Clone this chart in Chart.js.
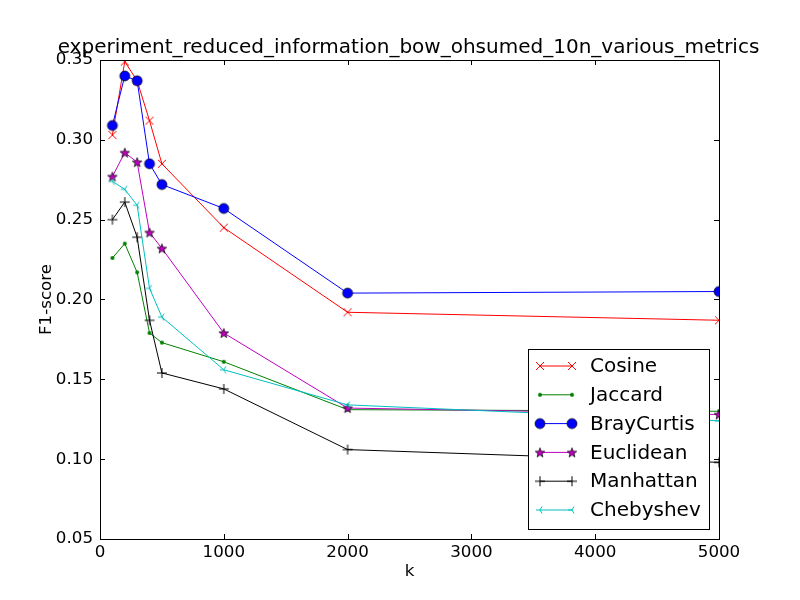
<!DOCTYPE html>
<html>
<head>
<meta charset="utf-8">
<script src="https://cdn.jsdelivr.net/npm/chart.js@4.4.0/dist/chart.umd.min.js"></script>
<style>
  html, body { margin: 0; padding: 0; background: #fff; }
  canvas { display: block; }
</style>
</head>
<body>
<canvas id="chart" width="800" height="600"></canvas>
<script>
const kValues = [100, 200, 300, 400, 500, 1000, 2000, 5000];
const cosine = [0.303, 0.349, 0.337, 0.312, 0.285, 0.245, 0.192, 0.187];
const jaccard = [0.226, 0.235, 0.217, 0.179, 0.173, 0.161, 0.131, 0.130];
const brayCurtis = [0.309, 0.340, 0.337, 0.285, 0.272, 0.257, 0.204, 0.205];
const euclidean = [0.277, 0.292, 0.286, 0.242, 0.232, 0.179, 0.132, 0.128];
const manhattan = [0.250, 0.261, 0.239, 0.187, 0.154, 0.144, 0.106, 0.098];
const chebyshev = [0.274, 0.269, 0.259, 0.207, 0.189, 0.156, 0.134, 0.124];
const seriesNames = ['Cosine', 'Jaccard', 'BrayCurtis', 'Euclidean', 'Manhattan', 'Chebyshev'];
const xTicks = [0, 1000, 2000, 3000, 4000, 5000];
const yTicks = [0.05, 0.10, 0.15, 0.20, 0.25, 0.30, 0.35];

const FONT = 'DejaVu Sans';

// small canvases used as point styles (matplotlib-like markers)
function marker(size, draw) {
  const c = document.createElement('canvas');
  c.width = size;
  c.height = size;
  const g = c.getContext('2d');
  draw(g, size / 2);
  return c;
}

const xMark = marker(12, (g, m) => {
  g.strokeStyle = '#ff0000';
  g.lineWidth = 1;
  g.beginPath();
  g.moveTo(m - 4, m - 4); g.lineTo(m + 4, m + 4);
  g.moveTo(m + 4, m - 4); g.lineTo(m - 4, m + 4);
  g.stroke();
});
const dotMark = marker(8, (g, m) => {
  g.fillStyle = '#008000';
  g.beginPath();
  g.arc(m, m, 2, 0, Math.PI * 2);
  g.fill();
});
const circleMark = marker(14, (g, m) => {
  g.fillStyle = '#0000ff';
  g.strokeStyle = '#000';
  g.lineWidth = 0.7;
  g.beginPath();
  g.arc(m, m, 5, 0, Math.PI * 2);
  g.fill();
  g.stroke();
});
const starMark = marker(14, (g, m) => {
  g.fillStyle = '#bf00bf';
  g.strokeStyle = '#000';
  g.lineWidth = 0.7;
  g.beginPath();
  for (let i = 0; i < 10; i++) {
    const r = i % 2 === 0 ? 5 : 2.1;
    const a = -Math.PI / 2 + i * Math.PI / 5;
    const px = m + r * Math.cos(a), py = m + 0.5 + r * Math.sin(a);
    if (i === 0) g.moveTo(px, py); else g.lineTo(px, py);
  }
  g.closePath();
  g.fill();
  g.stroke();
});
const plusMark = marker(14, (g, m) => {
  g.strokeStyle = '#000';
  g.lineWidth = 1;
  g.beginPath();
  g.moveTo(m - 5, m); g.lineTo(m + 5, m);
  g.moveTo(m, m - 5); g.lineTo(m, m + 5);
  g.stroke();
});
const triMark = marker(12, (g, m) => {
  g.strokeStyle = '#00bfbf';
  g.lineWidth = 1;
  g.beginPath();
  g.moveTo(m, m); g.lineTo(m - 4, m);
  g.moveTo(m, m); g.lineTo(m + 2, m - 3.5);
  g.moveTo(m, m); g.lineTo(m + 2, m + 3.5);
  g.stroke();
});

const seriesValues = [cosine, jaccard, brayCurtis, euclidean, manhattan, chebyshev];
const seriesColors = ['#ff0000', '#008000', '#0000ff', '#bf00bf', '#000000', '#00bfbf'];
const seriesMarkers = [xMark, dotMark, circleMark, starMark, plusMark, triMark];

const datasets = seriesNames.map((name, i) => ({
  label: name,
  data: kValues.map((k, j) => ({ x: k, y: seriesValues[i][j] })),
  borderColor: seriesColors[i],
  backgroundColor: seriesColors[i],
  borderWidth: 1,
  pointStyle: seriesMarkers[i],
  pointRadius: 5,
  tension: 0,
  clip: 0,
  order: seriesNames.length - i
}));

const framePlugin = {
  id: 'frame',
  afterDraw(chart) {
    const ctx = chart.ctx;
    const a = chart.chartArea;
    const xs = chart.scales.x, ys = chart.scales.y;
    ctx.save();
    ctx.strokeStyle = '#000';
    ctx.lineWidth = 1;
    // ticks pointing inward on all four sides
    ctx.beginPath();
    xTicks.forEach(v => {
      const px = Math.round(xs.getPixelForValue(v)) + 0.5;
      ctx.moveTo(px, a.bottom); ctx.lineTo(px, a.bottom - 5);
      ctx.moveTo(px, a.top); ctx.lineTo(px, a.top + 5);
    });
    yTicks.forEach(v => {
      const py = Math.round(ys.getPixelForValue(v)) + 0.5;
      ctx.moveTo(a.left, py); ctx.lineTo(a.left + 5, py);
      ctx.moveTo(a.right, py); ctx.lineTo(a.right - 5, py);
    });
    ctx.stroke();

    // legend box
    const lx = 528, ly = 349, lw = 181, lh = 180;
    ctx.fillStyle = '#fff';
    ctx.fillRect(lx, ly, lw, lh);
    ctx.strokeRect(lx + 0.5, ly + 0.5, lw, lh);
    ctx.font = '20px "' + FONT + '"';
    ctx.textBaseline = 'middle';
    ctx.textAlign = 'left';
    datasets.forEach((ds, i) => {
      const y = ly + 17 + i * 28.8;
      ctx.strokeStyle = ds.borderColor;
      ctx.beginPath();
      ctx.moveTo(540, y); ctx.lineTo(572, y);
      ctx.stroke();
      const mk = ds.pointStyle;
      ctx.drawImage(mk, 540 - mk.width / 2, y - mk.height / 2);
      ctx.drawImage(mk, 572 - mk.width / 2, y - mk.height / 2);
      ctx.fillStyle = '#000';
      ctx.fillText(ds.label, 590, y + 1);
    });

    // frame
    ctx.strokeStyle = '#000';
    ctx.strokeRect(Math.round(a.left) + 0.5, Math.round(a.top) + 0.5,
      Math.round(a.right - a.left), Math.round(a.bottom - a.top));

    // title
    ctx.fillStyle = '#000';
    ctx.font = '20px "' + FONT + '"';
    ctx.textAlign = 'center';
    ctx.textBaseline = 'alphabetic';
    ctx.fillText('experiment_reduced_information_bow_ohsumed_10n_various_metrics', (a.left + a.right) / 2 - 1, 53);
    ctx.restore();
  }
};

new Chart(document.getElementById('chart'), {
  type: 'line',
  data: { datasets: datasets },
  options: {
    responsive: false,
    animation: false,
    devicePixelRatio: 1,
    layout: { padding: { top: 60, right: 81, left: 0, bottom: 0 } },
    plugins: {
      legend: { display: false },
      tooltip: { enabled: false }
    },
    scales: {
      x: {
        type: 'linear',
        min: 0,
        max: 5000,
        grid: { display: false, drawTicks: false },
        border: { display: false },
        afterFit(scale) { scale.height = 61; },
        afterBuildTicks(scale) { scale.ticks = xTicks.map(v => ({ value: v })); },
        ticks: {
          autoSkip: false,
          maxRotation: 0,
          padding: 4,
          color: '#000',
          font: { family: FONT, size: 16.7 },
          callback: v => String(v)
        },
        title: {
          display: true,
          text: 'k',
          color: '#000',
          font: { family: FONT, size: 16.7 },
          padding: { top: 18, bottom: 18 }
        }
      },
      y: {
        type: 'linear',
        min: 0.05,
        max: 0.35,
        grid: { display: false, drawTicks: false },
        border: { display: false },
        afterFit(scale) { scale.width = 100; },
        afterBuildTicks(scale) { scale.ticks = yTicks.map(v => ({ value: v })); },
        ticks: {
          autoSkip: false,
          padding: 7,
          color: '#000',
          font: { family: FONT, size: 16.7 },
          callback: v => Number(v).toFixed(2)
        },
        title: {
          display: true,
          text: 'F1-score',
          color: '#000',
          font: { family: FONT, size: 16.7 },
          padding: { top: 37, bottom: 37 }
        }
      }
    }
  },
  plugins: [framePlugin]
});
</script>
</body>
</html>
